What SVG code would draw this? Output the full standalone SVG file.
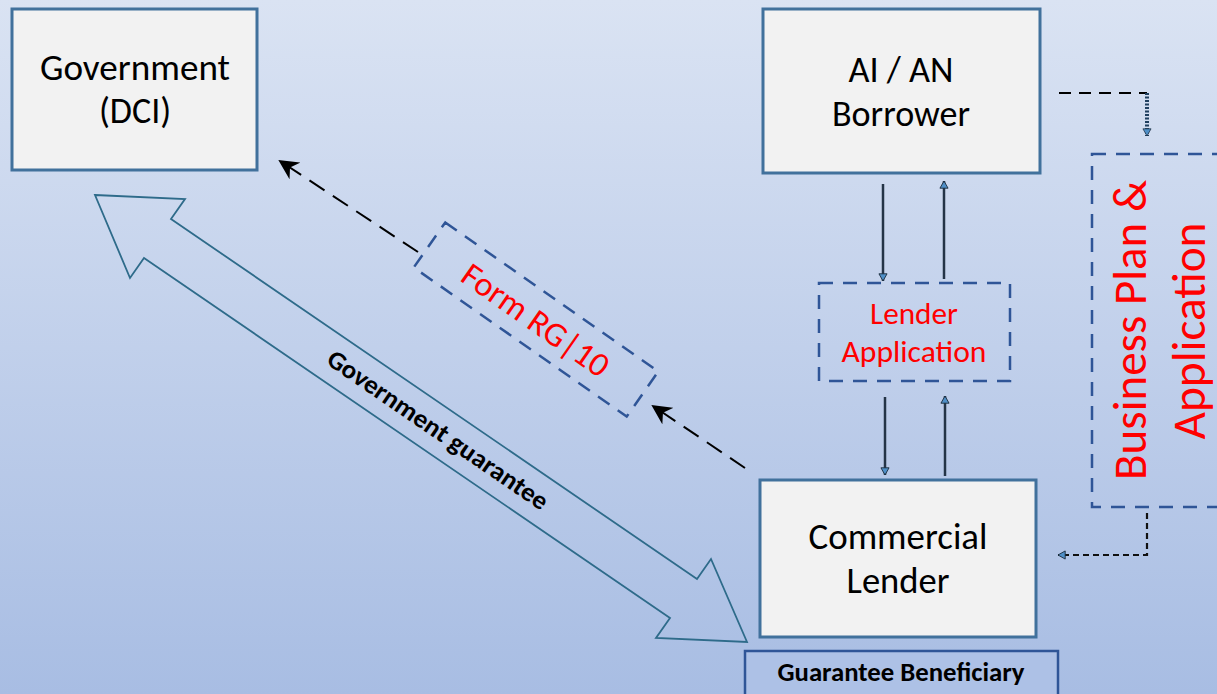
<svg xmlns="http://www.w3.org/2000/svg" width="1217" height="694" viewBox="0 0 1217 694">
<defs>
<linearGradient id="bg" x1="0" y1="0" x2="0" y2="1">
<stop offset="0" stop-color="#dae3f3"/>
<stop offset="1" stop-color="#a8bde3"/>
</linearGradient>
<marker id="bigblk" viewBox="0 0 10 10" refX="9" refY="5" markerWidth="20" markerHeight="20" markerUnits="userSpaceOnUse" orient="auto">
<path d="M0,0 L10,5 L0,10 L3,5 z" fill="#000"/>
</marker>
<marker id="blu" viewBox="0 0 10 10" refX="9" refY="5" markerWidth="9" markerHeight="11" markerUnits="userSpaceOnUse" orient="auto">
<path d="M1,0.5 L9,5 L1,9.5 z" fill="#4f8fc7" stroke="#1a2a3a" stroke-width="1"/>
</marker>
<marker id="blu2" viewBox="0 0 10 10" refX="9" refY="5" markerWidth="9" markerHeight="16" markerUnits="userSpaceOnUse" orient="auto">
<path d="M1,0.5 L9,5 L1,9.5 z" fill="#4f8fc7" stroke="#1a2a3a" stroke-width="0.8"/>
</marker>
</defs>
<style>
.box{fill:#f2f2f2;stroke:#41719c;stroke-width:3}
.dbox{fill:none;stroke:#2f5597;stroke-width:2.5;stroke-dasharray:14 10}
.lbl{font-family:Carlito,"Open Sans","Noto Sans",sans-serif;font-size:36px;fill:#000;text-anchor:middle}
.red{font-family:Carlito,"Open Sans","Noto Sans",sans-serif;fill:#ff0000;text-anchor:middle}
.bold{font-family:Carlito,"Open Sans","Noto Sans",sans-serif;font-weight:bold;fill:#000;text-anchor:middle}
.thin{stroke:#243447;stroke-width:2.5;fill:none;marker-end:url(#blu)}
.dash{stroke:#000;stroke-width:2;stroke-dasharray:18 10;fill:none;marker-end:url(#bigblk)}
</style>
<rect x="0" y="0" width="1217" height="694" fill="url(#bg)"/>

<g id="connectors">
<polygon points="95,195 185,199 171,219 697,579 711,559 747,642 656,638 670,618 144,258 130,278" fill="none" stroke="#2e6b8a" stroke-width="1.8" stroke-linejoin="miter"/>
<text class="bold" font-size="26" transform="translate(433,437) rotate(34.4)" textLength="262" lengthAdjust="spacingAndGlyphs">Government guarantee</text>
<line class="dash" x1="418" y1="252" x2="280" y2="161"/>
<line class="dash" x1="745" y1="468" x2="653" y2="406"/>
<line class="thin" x1="883" y1="184" x2="883" y2="281"/>
<line class="thin" x1="944" y1="279" x2="944" y2="181"/>
<line class="thin" x1="885" y1="397" x2="885" y2="475"/>
<line class="thin" x1="945" y1="476" x2="945" y2="396"/>
<path d="M1059,93 H1147" stroke="#000" stroke-width="2" stroke-dasharray="12 8" fill="none"/>
<path d="M1147,93 V136" stroke="#1f3f5f" stroke-width="4" stroke-dasharray="2 1.5" fill="none" marker-end="url(#blu2)"/>
<path d="M1147,513 V555 H1058" stroke="#111" stroke-width="2.2" stroke-dasharray="6 4" fill="none" marker-end="url(#blu)"/>
</g>

<g id="government">
<rect class="box" x="12" y="9" width="245" height="161"/>
<text class="lbl" x="135" y="80" textLength="190" lengthAdjust="spacingAndGlyphs">Government</text>
<text class="lbl" x="135" y="123">(DCI)</text>
</g>

<g id="borrower">
<rect class="box" x="763" y="9" width="277" height="164"/>
<text class="lbl" x="901" y="82" textLength="105" lengthAdjust="spacingAndGlyphs">AI / AN</text>
<text class="lbl" x="901" y="126" textLength="138" lengthAdjust="spacingAndGlyphs">Borrower</text>
</g>

<g id="lender-application">
<rect class="dbox" x="819" y="283" width="191" height="98"/>
<text class="red" font-size="31" x="914" y="324" textLength="88" lengthAdjust="spacingAndGlyphs">Lender</text>
<text class="red" font-size="31" x="914" y="362" textLength="145" lengthAdjust="spacingAndGlyphs">Application</text>
</g>

<g id="commercial-lender">
<rect class="box" x="760" y="480" width="276" height="157"/>
<text class="lbl" x="898" y="549" textLength="179" lengthAdjust="spacingAndGlyphs">Commercial</text>
<text class="lbl" x="898" y="593" textLength="103" lengthAdjust="spacingAndGlyphs">Lender</text>
</g>

<g id="guarantee-beneficiary">
<rect x="745" y="651" width="313" height="45" fill="#adc1e6" stroke="#2f5597" stroke-width="2.5"/>
<text class="bold" font-size="26" x="901" y="681" textLength="247" lengthAdjust="spacingAndGlyphs">Guarantee Beneficiary</text>
</g>

<g id="form-rg10">
<g transform="translate(536,319.5) rotate(35)">
<rect class="dbox" x="-130" y="-27.5" width="260" height="55"/>
<text class="red" font-size="34" x="0" y="12" textLength="172" lengthAdjust="spacingAndGlyphs">Form RG|10</text>
</g>
</g>

<g id="business-plan">
<rect class="dbox" x="1092" y="154" width="200" height="353"/>
<text class="red" font-size="47" transform="translate(1146,330) rotate(-90)" textLength="300" lengthAdjust="spacingAndGlyphs">Business Plan &amp;</text>
<text class="red" font-size="47" transform="translate(1205,331) rotate(-90)" textLength="217" lengthAdjust="spacingAndGlyphs">Application</text>
</g>
</svg>
